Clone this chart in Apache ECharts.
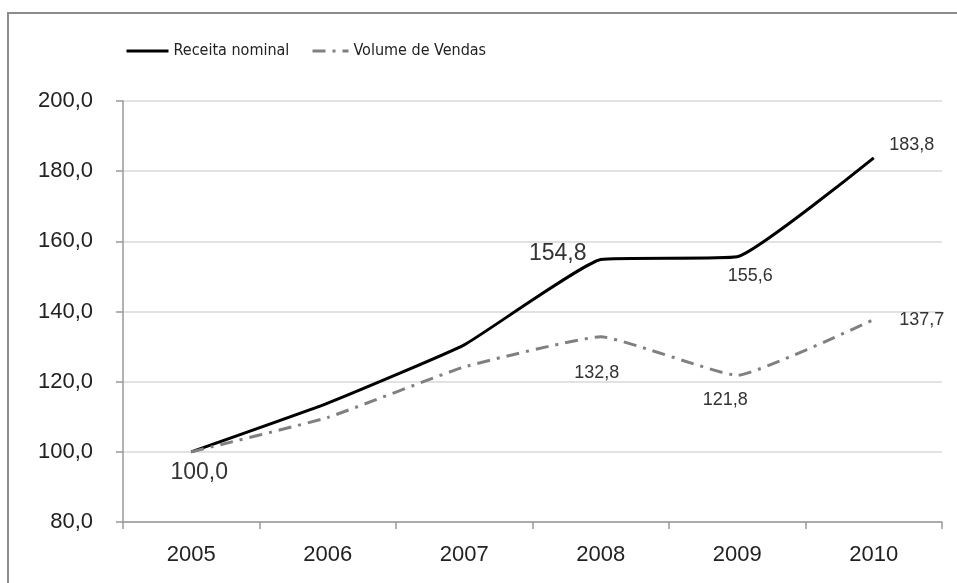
<!DOCTYPE html>
<html>
<head>
<meta charset="utf-8">
<script src="https://cdn.jsdelivr.net/npm/echarts@6/dist/echarts.min.js"></script>
<style>
  html, body { margin: 0; padding: 0; background: #fff; }
  #chart { width: 957px; height: 583px; }
</style>
</head>
<body>
<div id="chart"></div>
<script>
var anos = ['2005', '2006', '2007', '2008', '2009', '2010'];
var receitaNominal = [100.0, 113.9, 130.5, 154.8, 155.6, 183.8];
var volumeVendas = [100.0, 109.8, 124.2, 132.8, 121.8, 137.7];

// which points carry a value label: [index, fontSize, offsetX, offsetY]
var rotulosReceita = [[0, 23, 8, 21], [3, 23, -43, -6], [4, 18, 13, 19], [5, 18, 38, -13]];
var rotulosVolume = [[3, 18, -4, 36], [4, 18, -12, 25], [5, 18, 48, 0]];

function fmt(v) {
	return v.toFixed(1).replace('.', ',');
}

function montaDados(valores, rotulos) {
	var dados = [];
	for (var i = 0; i < valores.length; i++) {
		dados.push({ value: valores[i], label: { show: false } });
	}
	rotulos.forEach(function(r) {
		dados[r[0]].label = {
			show: true,
			position: 'inside',
			fontSize: r[1],
			offset: [r[2], r[3]],
			color: '#333',
			fontFamily: 'Liberation Sans',
			formatter: function(p) { return fmt(p.value); }
		};
	});
	return dados;
}

var legendaTexto = {
	fontFamily: "'Liberation Sans Narrow', 'DejaVu Sans Condensed', sans-serif",
	fontSize: 16,
	color: '#222'
};

var myChart = echarts.init(document.getElementById('chart'));
var option = {
	animation: false,
	backgroundColor: '#fff',
	graphic: [{
		type: 'rect',
		shape: { x: 8, y: 13, width: 1200, height: 1000 },
		style: { fill: 'none', stroke: '#8c8c8c', lineWidth: 2 },
		silent: true
	}],
	legend: [{
		left: 120,
		top: 38,
		itemWidth: 42,
		itemHeight: 14,
		textStyle: legendaTexto,
		lineStyle: { width: 3 },
		data: ['Receita nominal']
	}, {
		left: 306,
		top: 38,
		itemWidth: 36,
		itemHeight: 14,
		textStyle: legendaTexto,
		lineStyle: { width: 3 },
		data: ['Volume de Vendas']
	}],
	grid: { left: 123, right: 15, top: 101, bottom: 61 },
	xAxis: {
		type: 'category',
		data: anos,
		boundaryGap: true,
		axisLine: { lineStyle: { color: '#999', width: 1.5 } },
		axisTick: { show: true, length: 7, lineStyle: { color: '#999', width: 1.5 } },
		axisLabel: { margin: 22, fontSize: 22, color: '#222', fontFamily: 'Liberation Sans' }
	},
	yAxis: {
		type: 'value',
		min: 80,
		max: 200,
		interval: 20,
		axisLine: { show: true, lineStyle: { color: '#999', width: 1.5 } },
		axisTick: { show: true, length: 7, lineStyle: { color: '#999', width: 1.5 } },
		splitLine: { lineStyle: { color: '#d9d9d9', width: 1.5 } },
		axisLabel: {
			margin: 30,
			fontSize: 22,
			color: '#222',
			fontFamily: 'Liberation Sans',
			formatter: function(v) { return fmt(v); }
		}
	},
	series: [{
		name: 'Receita nominal',
		type: 'line',
		smooth: 0.12,
		symbol: 'circle',
		symbolSize: 1,
		itemStyle: { color: 'rgba(0,0,0,0)' },
		lineStyle: { color: '#000', width: 3 },
		data: montaDados(receitaNominal, rotulosReceita)
	}, {
		name: 'Volume de Vendas',
		type: 'line',
		smooth: 0.12,
		symbol: 'circle',
		symbolSize: 1,
		itemStyle: { color: 'rgba(0,0,0,0)' },
		lineStyle: { color: '#808080', width: 3, type: [13, 7, 3, 7] },
		data: montaDados(volumeVendas, rotulosVolume)
	}]
};
myChart.setOption(option);
</script>
</body>
</html>
